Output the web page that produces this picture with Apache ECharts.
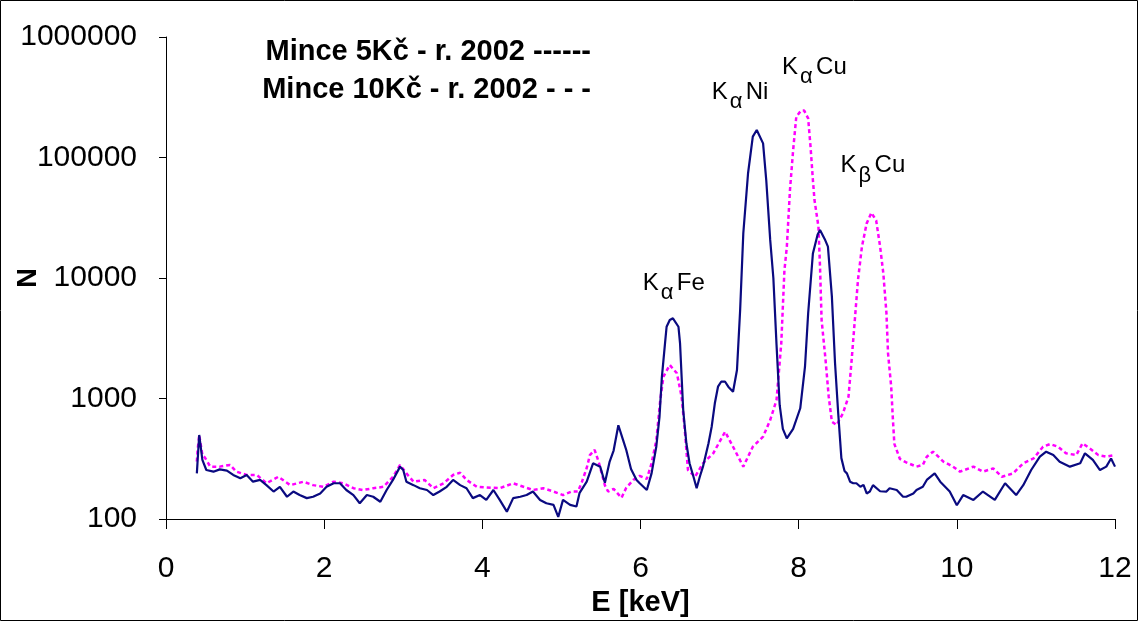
<!DOCTYPE html>
<html>
<head>
<meta charset="utf-8">
<script src="https://cdn.jsdelivr.net/npm/echarts@6/dist/echarts.min.js"></script>
<style>
  html, body { margin: 0; padding: 0; background: #fff; }
  #chart { width: 1138px; height: 621px; }
</style>
</head>
<body>
<div id="chart"></div>
<script>
// spectrum of the 5 Kc coin (solid navy)
var energy5 = [0.39,0.42,0.46,0.51,0.60,0.68,0.77,0.85,0.94,1.02,1.10,1.19,1.27,1.36,1.44,1.53,1.61,1.69,1.78,1.86,
  1.95,2.03,2.12,2.20,2.28,2.37,2.45,2.54,2.62,2.71,2.79,2.87,2.96,3.00,3.04,3.13,3.21,3.30,3.38,3.46,
  3.55,3.63,3.72,3.80,3.88,3.97,4.05,4.14,4.22,4.31,4.39,4.48,4.56,4.64,4.73,4.81,4.90,4.96,5.02,5.11,
  5.19,5.23,5.32,5.40,5.49,5.55,5.61,5.66,5.72,5.78,5.82,5.88,5.95,5.99,6.08,6.14,6.20,6.24,6.27,6.31,
  6.33,6.37,6.41,6.48,6.50,6.52,6.54,6.58,6.62,6.67,6.71,6.75,6.79,6.86,6.90,6.94,6.98,7.02,7.07,7.11,
  7.17,7.22,7.26,7.30,7.36,7.42,7.47,7.55,7.59,7.64,7.68,7.72,7.76,7.80,7.85,7.93,8.02,8.08,8.12,8.18,
  8.24,8.27,8.33,8.37,8.42,8.46,8.50,8.54,8.58,8.61,8.65,8.69,8.73,8.78,8.82,8.86,8.90,8.94,9.03,9.11,
  9.15,9.24,9.32,9.36,9.45,9.49,9.57,9.62,9.72,9.79,9.91,10.0,10.08,10.21,10.33,10.48,10.61,10.75,10.84,10.94,
  11.05,11.13,11.22,11.30,11.43,11.56,11.62,11.72,11.81,11.89,11.95,12.0];
var counts5 = [239,498,309,255,247,258,252,232,218,232,204,211,191,169,185,153,169,158,149,153,
  163,185,198,198,174,158,135,158,153,139,174,211,272,255,204,191,180,174,158,169,
  185,211,191,180,149,158,144,174,144,115,149,153,158,169,144,135,131,104,144,131,
  127,165,204,290,272,200,300,370,600,452,374,260,211,198,174,239,400,700,1500,2871,
  3940,4480,4630,3940,2871,1517,803,425,290,224,180,224,272,425,583,912,1253,1378,1378,1253,
  1139,1724,5420,23500,74000,149000,169000,131000,65000,20700,10000,2800,880,560,467,560,830,1836,5100,16000,
  23000,25000,21000,18200,7000,1960,754,320,250,239,204,198,198,185,192,163,169,191,170,169,
  180,174,153,153,163,174,185,211,239,204,169,130,158,144,169,144,198,158,191,255,
  329,362,339,299,272,290,351,309,255,272,318,272];

// spectrum of the 10 Kc coin (dotted magenta)
var energy10 = [0.39,0.40,0.42,0.46,0.49,0.56,0.68,0.81,0.89,1.02,1.15,1.27,1.42,1.57,1.74,1.86,1.99,2.12,2.24,2.37,
  2.49,2.62,2.75,2.87,2.96,3.04,3.13,3.27,3.38,3.51,3.63,3.72,3.80,3.93,4.05,4.22,4.39,4.52,4.64,4.77,
  4.90,5.02,5.13,5.21,5.26,5.32,5.36,5.42,5.47,5.51,5.55,5.59,5.66,5.76,5.82,5.91,5.99,6.08,6.14,6.20,
  6.25,6.29,6.37,6.46,6.52,6.56,6.60,6.69,6.79,6.92,7.07,7.17,7.30,7.42,7.55,7.64,7.72,7.78,7.82,7.85,
  7.89,7.93,7.97,8.03,8.07,8.12,8.15,8.18,8.20,8.25,8.27,8.29,8.34,8.38,8.42,8.48,8.56,8.63,8.67,8.71,
  8.75,8.80,8.86,8.92,8.98,9.03,9.07,9.11,9.13,9.17,9.19,9.21,9.28,9.36,9.49,9.57,9.62,9.70,9.79,9.83,
  9.91,9.95,10.04,10.21,10.33,10.46,10.57,10.71,10.84,10.97,11.09,11.18,11.28,11.38,11.51,11.59,11.68,11.79,11.89,12.0];
var counts10 = [300,374,498,340,325,272,272,281,247,232,232,198,224,191,204,191,185,204,198,180,
  174,180,185,224,281,239,204,211,180,198,232,242,211,185,183,180,198,185,174,180,
  169,158,169,169,204,265,339,374,299,239,190,169,178,150,182,211,228,215,290,450,
  971,1517,1897,1619,1035,548,255,224,290,351,530,398,272,398,482,663,971,2871,11600,18000,
  53700,115000,218000,245000,245000,211000,123000,65000,44400,26700,12400,4480,2088,1035,642,603,754,1035,2088,4480,
  9620,18200,28400,34800,30000,18200,11000,5100,2371,1253,700,420,315,295,272,281,329,362,318,299,
  281,272,247,272,247,263,224,239,290,318,398,419,398,351,339,425,386,339,329,339];

var xTicks = [0, 12, 2];             // min, max, step of the energy axis
var yRange = [100, 1000000];

// peak annotations: [K subscript, element, E, N] at the left edge of the "K"
var peaks = [
  ['α', 'Fe', 6.03, 9090],
  ['α', 'Ni', 6.90, 349600],
  ['α', 'Cu', 7.79, 564000],
  ['β', 'Cu', 8.53, 86700]
];

var legendLines = ['Mince 5Kč - r. 2002 ------', 'Mince 10Kč - r. 2002 - - -'];

function pairs(xs, ys) {
  return xs.map(function (x, i) { return [x, ys[i]]; });
}

var font = 'Liberation Sans';
var chart = echarts.init(document.getElementById('chart'), null, { renderer: 'canvas' });

var option = {
  animation: false,
  backgroundColor: '#ffffff',
  grid: { left: 166, right: 23, top: 37, bottom: 102, containLabel: false, outerBoundsMode: 'none' },
  xAxis: {
    type: 'value',
    min: xTicks[0],
    max: xTicks[1],
    interval: xTicks[2],
    name: 'E [keV]',
    nameLocation: 'middle',
    nameGap: 67,
    nameTextStyle: { fontFamily: font, fontSize: 29, fontWeight: 'bold', color: '#000' },
    axisLine: { lineStyle: { color: '#000', width: 1 } },
    axisTick: { length: 10, lineStyle: { color: '#000' } },
    axisLabel: { margin: 35, fontFamily: font, fontSize: 30, color: '#000' },
    splitLine: { show: false }
  },
  yAxis: {
    type: 'log',
    logBase: 10,
    min: yRange[0],
    max: yRange[1],
    name: 'N',
    nameLocation: 'middle',
    nameRotate: 90,
    nameGap: 124,
    nameMoveOverlap: false,
    nameTextStyle: { fontFamily: font, fontSize: 27, fontWeight: 'bold', color: '#000' },
    axisLine: { show: true, lineStyle: { color: '#000', width: 1 } },
    axisTick: { show: true, length: 7, lineStyle: { color: '#000' } },
    axisLabel: {
      margin: 29, fontFamily: font, fontSize: 30, color: '#000',
      formatter: function (v) { return String(Math.round(v)); }
    },
    splitLine: { show: false },
    minorTick: { show: false }
  },
  series: [
    {
      name: legendLines[1],
      type: 'line',
      data: pairs(energy10, counts10),
      showSymbol: false,
      lineStyle: { color: '#ff00ff', width: 2.5, type: [4, 3] },
      z: 2
    },
    {
      name: legendLines[0],
      type: 'line',
      data: pairs(energy5, counts5),
      showSymbol: false,
      lineStyle: { color: '#0a0a80', width: 2.2 },
      z: 3
    }
  ]
};
chart.setOption(option);

// labels and frame, positioned after the axes exist
var g = [{
  type: 'rect', silent: true,
  shape: { x: 0.5, y: 0.5, width: 1137, height: 620 },
  style: { fill: null, stroke: '#000', lineWidth: 1 }
}];
legendLines.forEach(function (t, i) {
  g.push({
    type: 'text', x: 591, y: 52 + i * 38,
    style: { text: t, font: 'bold 29px "' + font + '"', fill: '#000', textAlign: 'right', textVerticalAlign: 'middle' }
  });
});
peaks.forEach(function (p) {
  var px = chart.convertToPixel({ gridIndex: 0 }, [p[2], p[3]]);
  var sub = p[0] === 'α' ? 10 : 11;
  g.push({ type: 'text', x: px[0], y: px[1],
    style: { text: 'K', font: '24px "' + font + '"', fill: '#000', textVerticalAlign: 'middle' } });
  g.push({ type: 'text', x: px[0] + 18, y: px[1] + sub,
    style: { text: p[0], font: '22px "' + font + '"', fill: '#000', textVerticalAlign: 'middle' } });
  g.push({ type: 'text', x: px[0] + 34, y: px[1],
    style: { text: p[1], font: '24px "' + font + '"', fill: '#000', textVerticalAlign: 'middle' } });
});
chart.setOption({ graphic: g });
</script>
</body>
</html>
